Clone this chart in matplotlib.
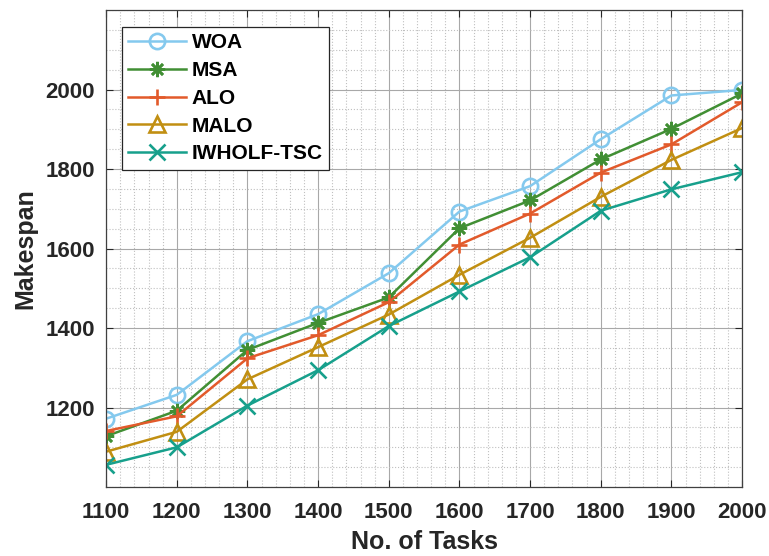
import matplotlib
matplotlib.use('Agg')
from matplotlib import pyplot as plt
from matplotlib.ticker import MultipleLocator

tasks = [1100, 1200, 1300, 1400, 1500, 1600, 1700, 1800, 1900, 2000]

woa = [1172, 1232, 1367, 1435, 1538, 1693, 1757, 1875, 1985, 1999]
msa = [1128, 1192, 1345, 1413, 1477, 1651, 1721, 1824, 1901, 1990]
alo = [1141, 1178, 1324, 1382, 1465, 1610, 1688, 1791, 1862, 1968]
malo = [1089, 1139, 1271, 1352, 1434, 1534, 1627, 1730, 1823, 1903]
iwholf = [1056, 1100, 1205, 1294, 1405, 1492, 1578, 1695, 1749, 1792]

labels = ['WOA', 'MSA', 'ALO', 'MALO', 'IWHOLF-TSC']
colors = ['#84C9EE', '#418F34', '#E25A2B', '#C18F12', '#17A08C']
# MATLAB style '*' is an 8-arm asterisk
markers = ['o', (8, 2, 0), '+', '^', 'x']
series = [woa, msa, alo, malo, iwholf]

plt.rcParams['font.family'] = ['Liberation Sans', 'DejaVu Sans']
plt.rcParams['font.weight'] = 'bold'

fig = plt.figure(figsize=(7.69, 5.56), dpi=100)
ax = fig.add_axes([0.138, 0.124, 0.827, 0.858])

for vals, lab, col, mk in zip(series, labels, colors, markers):
    ax.plot(tasks, vals, color=col, marker=mk, markersize=11,
            markerfacecolor='none', markeredgecolor=col, markeredgewidth=1.9,
            linewidth=1.8, label=lab)

ax.set_xlim(1100, 2000)
ax.set_ylim(1000, 2200)
ax.set_xticks(tasks)
ax.set_yticks([1200, 1400, 1600, 1800, 2000])
ax.xaxis.set_minor_locator(MultipleLocator(20))
ax.yaxis.set_minor_locator(MultipleLocator(50))

ax.grid(which='major', color='#a8a8a8', linestyle='-', linewidth=0.8)
ax.grid(which='minor', color='#c0c0c0', linestyle=':', linewidth=0.8)
ax.set_axisbelow(True)

ax.tick_params(which='both', direction='in', top=True, right=True, labelsize=16,
               colors='#262626', labelcolor='#262626')
ax.tick_params(which='minor', length=0)
ax.tick_params(which='major', length=5)
ax.tick_params(axis='x', which='major', pad=11)
ax.tick_params(axis='y', which='major', pad=8)
for lbl in ax.get_xticklabels() + ax.get_yticklabels():
    lbl.set_fontweight('bold')
for sp in ax.spines.values():
    sp.set_color('#404040')
    sp.set_linewidth(0.9)

ax.set_xlabel('No. of Tasks', fontsize=18, fontweight='bold', color='#262626', labelpad=5)
ax.set_ylabel('Makespan', fontsize=18, fontweight='bold', color='#262626', labelpad=6)

leg = ax.legend(loc='upper left', bbox_to_anchor=(0.025, 0.964), borderaxespad=0,
                fontsize=15, handlelength=2.75, handletextpad=0.3, labelspacing=0.42,
                borderpad=0.3, fancybox=False, framealpha=1, edgecolor='#262626')
leg.get_frame().set_linewidth(0.9)
for t in leg.get_texts():
    t.set_fontweight('bold')

fig.savefig('out.png', dpi=100)
